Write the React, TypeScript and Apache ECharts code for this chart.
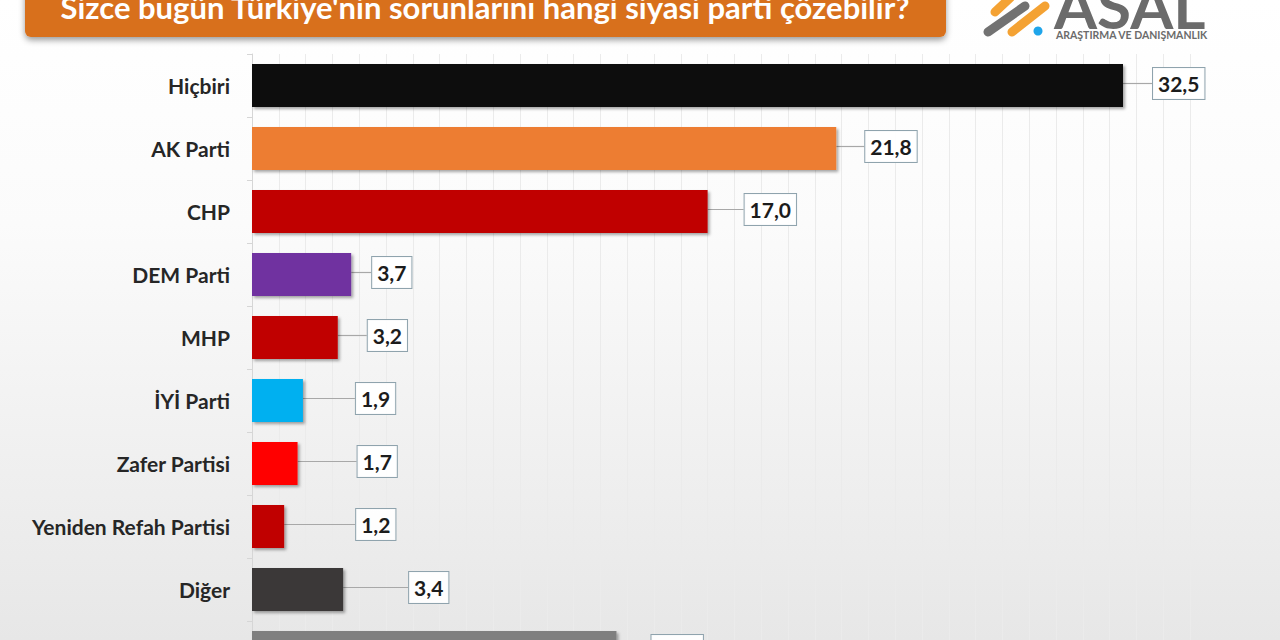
import React, { useEffect, useRef } from "react";
import * as echarts from "echarts";

const TITLE = "Sizce bugün Türkiye'nin sorunlarını hangi siyasi parti çözebilir?";
const CATEGORIES = [
  "Hiçbiri",
  "AK Parti",
  "CHP",
  "DEM Parti",
  "MHP",
  "İYİ Parti",
  "Zafer Partisi",
  "Yeniden Refah Partisi",
  "Diğer",
  "Kararsız",
];
const VALUES = [32.5, 21.8, 17.0, 3.7, 3.2, 1.9, 1.7, 1.2, 3.4, 13.6];
const BAR_COLORS = [
  "#0d0d0d",
  "#ed7d31",
  "#c00000",
  "#7030a0",
  "#c00000",
  "#00b0f0",
  "#ff0000",
  "#c00000",
  "#3b3838",
  "#7f7f7f",
];
const X_MIN = 0;
const X_MAX = 35;
const X_STEP = 1;

export default function App() {
  const ref = useRef<HTMLDivElement>(null);

  useEffect(() => {
    if (!ref.current) return;
    const chart = echarts.init(ref.current, undefined, { renderer: "svg" });
    const labelDx = [30, 29, 37, 21, 30, 53, 60, 72, 66, 35];
    const font = "Lato, 'Open Sans', sans-serif";

    chart.setOption({
      animation: false,
      backgroundColor: new echarts.graphic.LinearGradient(0, 0, 0, 1, [
        { offset: 0, color: "#ffffff" },
        { offset: 0.35, color: "#fbfbfb" },
        { offset: 1, color: "#e7e7e7" },
      ]),
      textStyle: { fontFamily: font },
      grid: {
        left: 252,
        right: 90,
        top: 54,
        bottom: -44,
        containLabel: false,
        outerBoundsMode: "none",
      },
      xAxis: {
        type: "value",
        min: X_MIN,
        max: X_MAX,
        interval: X_STEP,
        axisLabel: { show: false },
        axisLine: { show: false },
        axisTick: { show: false },
        splitLine: { show: true, lineStyle: { color: "#ebebeb", width: 1 } },
      },
      yAxis: {
        type: "category",
        data: CATEGORIES,
        inverse: true,
        axisLine: { show: true, lineStyle: { color: "#d6d6d6", width: 1 } },
        axisTick: { show: true, length: 5, lineStyle: { color: "#d6d6d6" } },
        axisLabel: {
          margin: 22,
          fontSize: 21,
          fontWeight: "bold",
          color: "#262626",
          fontFamily: font,
        },
      },
      series: [
        {
          type: "bar",
          data: VALUES.map((v, i) => ({
            value: v,
            itemStyle: { color: BAR_COLORS[i] },
          })),
          barWidth: 43,
          itemStyle: {
            shadowBlur: 3,
            shadowOffsetX: 2,
            shadowOffsetY: 2,
            shadowColor: "rgba(0,0,0,0.35)",
          },
          label: {
            show: true,
            position: "right",
            distance: 0,
            formatter: (p: any) => Number(p.value).toFixed(1).replace(".", ","),
            fontSize: 21,
            fontWeight: "bold",
            fontFamily: font,
            color: "#1c1c1c",
            backgroundColor: "rgba(255,255,255,0.95)",
            borderColor: "#8fa3ad",
            borderWidth: 1,
            padding: [6, 5, 4, 5],
          },
          labelLayout: (p: any) => ({ dx: labelDx[p.dataIndex] ?? 30, dy: -2 }),
          labelLine: {
            show: true,
            lineStyle: { color: "#a8a8a8", width: 1.2 },
          },
        },
      ],
      graphic: [
        {
          type: "rect",
          shape: { x: 25, y: -20, width: 921, height: 57, r: 6 },
          style: {
            fill: "#d8701a",
            shadowBlur: 6,
            shadowOffsetY: 3,
            shadowColor: "rgba(0,0,0,0.4)",
          },
          z: 10,
        },
        {
          type: "text",
          x: 485,
          y: 7,
          style: {
            text: TITLE,
            fill: "#ffffff",
            font: "bold 31px Lato, 'Open Sans', sans-serif",
            align: "center",
            verticalAlign: "middle",
          },
          z: 11,
        },
        {
          type: "line",
          shape: { x1: 995, y1: 12, x2: 1010, y2: -2 },
          style: { stroke: "#f4a233", lineWidth: 9, lineCap: "round" },
          z: 10,
        },
        {
          type: "line",
          shape: { x1: 988, y1: 32, x2: 1025, y2: 6 },
          style: { stroke: "#727272", lineWidth: 9, lineCap: "round" },
          z: 10,
        },
        {
          type: "line",
          shape: { x1: 1012, y1: 32, x2: 1045, y2: 6 },
          style: { stroke: "#f4a233", lineWidth: 9, lineCap: "round" },
          z: 10,
        },
        {
          type: "circle",
          shape: { cx: 1038, cy: 31, r: 4.5 },
          style: { fill: "#1fa5ea" },
          z: 10,
        },
        {
          type: "text",
          x: 1054,
          y: 5,
          style: {
            text: "ASAL",
            fill: "#6b6b6b",
            font: "bold 62px Lato, 'Open Sans', sans-serif",
            lineHeight: 46,
            align: "left",
            verticalAlign: "middle",
          },
          z: 10,
        },
        {
          type: "text",
          x: 1056,
          y: 35,
          style: {
            text: "ARAŞTIRMA VE DANIŞMANLIK",
            fill: "#6b6b6b",
            font: "bold 10.5px Lato, 'Open Sans', sans-serif",
            align: "left",
            verticalAlign: "middle",
          },
          z: 10,
        },
      ],
    });

    return () => chart.dispose();
  }, []);

  return (
    <div
      ref={ref}
      style={{ position: "fixed", left: 0, top: 0, width: 1280, height: 640 }}
    />
  );
}
